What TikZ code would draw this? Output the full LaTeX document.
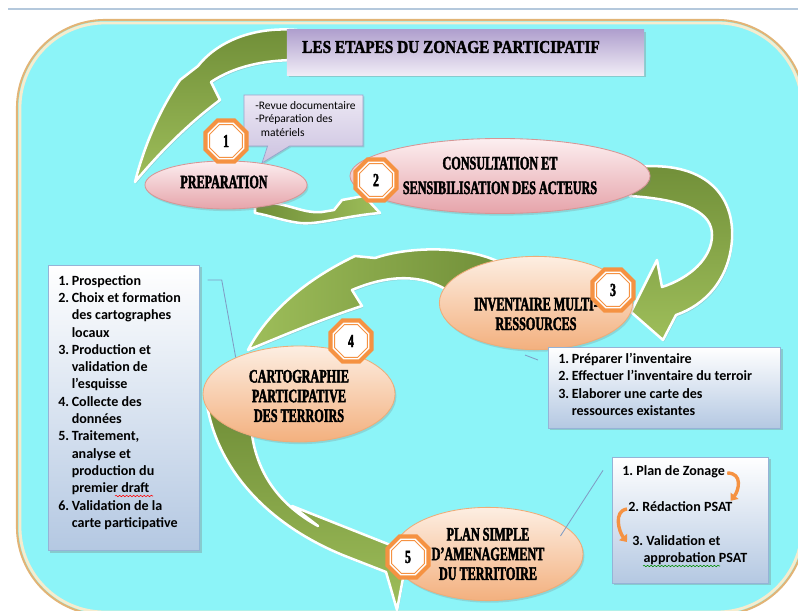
\documentclass[tikz,border=0pt]{standalone}
\usepackage{fontspec}
\newfontfamily\stepfont{Liberation Serif}[FakeStretch=0.64, BoldFeatures={FakeBold=2.2}]
\newfontfamily\titlefont{Liberation Serif}[FakeStretch=0.85, BoldFeatures={FakeBold=1.8}]
\newfontfamily\listfont{Carlito}
\usetikzlibrary{shapes.geometric, shapes.callouts, shadows, arrows.meta, decorations.pathmorphing, calc}

\definecolor{bgcyan}{RGB}{140,244,248}
\definecolor{rimtan}{RGB}{226,180,118}
\definecolor{rimpale}{RGB}{246,236,206}
\definecolor{grdark}{RGB}{112,142,56}
\definecolor{grlight}{RGB}{158,190,90}
\definecolor{pinktop}{RGB}{252,238,240}
\definecolor{pinkbot}{RGB}{230,164,170}
\definecolor{pinkline}{RGB}{214,150,150}
\definecolor{peachtop}{RGB}{253,238,226}
\definecolor{peachbot}{RGB}{243,176,126}
\definecolor{peachline}{RGB}{238,172,120}
\definecolor{octorange}{RGB}{245,146,66}
\definecolor{purtop}{RGB}{176,160,206}
\definecolor{purbot}{RGB}{240,236,246}
\definecolor{bubtop}{RGB}{236,232,244}
\definecolor{bubbot}{RGB}{204,194,224}
\definecolor{bubline}{RGB}{150,162,204}
\definecolor{boxline}{RGB}{149,179,215}
\definecolor{boxbot}{RGB}{180,200,226}
\definecolor{linkblue}{RGB}{128,156,196}
\definecolor{topline}{RGB}{180,200,220}

\newcommand\lnum[1]{\makebox[9.6pt][l]{#1}}
\newcommand\lind{\hspace*{9.6pt}}

\tikzset{
  oval/.style={ellipse, inner sep=0pt, line width=0.6pt, drop shadow={shadow xshift=1pt, shadow yshift=-1.5pt, opacity=0.25}},
  pinkoval/.style={oval, draw=pinkline, top color=pinktop, bottom color=pinkbot},
  peachoval/.style={oval, draw=peachline, top color=peachtop, bottom color=peachbot},
  steptext/.style={align=center, inner sep=0pt, font=\stepfont\bfseries\fontsize{13.5}{14}\selectfont},
  octo/.style={regular polygon, regular polygon sides=8, inner sep=0pt, minimum size=1.22cm, fill=octorange},
  octonum/.style={regular polygon, regular polygon sides=8, inner sep=0pt, minimum size=0.88cm, fill=white, draw=octorange, line width=0.7pt, preaction={draw=white, line width=3pt}, font=\stepfont\bfseries\fontsize{13}{13}\selectfont},
  greenarrow/.style={draw=white, line width=1.8pt, line join=round, drop shadow={shadow xshift=0.8pt, shadow yshift=-1.2pt, opacity=0.3}},
  listbox/.style={rectangle, anchor=north west, inner sep=0pt, draw=boxline, line width=0.5pt, top color=white, bottom color=boxbot, drop shadow={shadow xshift=1.5pt, shadow yshift=-1.5pt, opacity=0.35}},
  listtext/.style={align=left, inner sep=0pt, font=\listfont\bfseries\fontsize{10}{12.3}\selectfont},
  linkline/.style={draw=linkblue, line width=0.6pt},
  turnarrow/.style={draw=octorange, line width=2.4pt, -{Triangle[length=4.5pt, width=7pt]}},
}

\begin{document}
\begin{tikzpicture}[x=0.025cm, y=-0.025cm]
    \useasboundingbox (0,0) rectangle (798,611);
    \clip (0,0) rectangle (798,611);
    %page line and background
    \draw[topline, line width=0.8pt] (8,9) -- (798,9);
    \draw[draw=rimtan, line width=1.5pt, fill=bgcyan, rounded corners=2.2cm] (17,20) rectangle (805,615);
    \draw[draw=rimpale, line width=2pt, rounded corners=2.12cm] (20,23) rectangle (802,612);

    %green arrows
    \path[greenarrow, top color=grdark, bottom color=grlight] (297,30) .. controls (250,26) and (215,44) .. (198,66) -- (180,80) .. controls (158,112) and (143,150) .. (135,182) .. controls (160,152) and (188,124) .. (220,100) -- (211,82) .. controls (235,66) and (265,60) .. (297,60) -- cycle;
    \path[greenarrow, left color=grdark, right color=grlight] (255,203) .. controls (285,200) and (300,214) .. (322,212) -- (334,210) -- (342,200) -- (364,196) -- (380,213) .. controls (345,216) and (318,225) .. (300,223) .. controls (283,221) and (268,215) .. (255,213) -- cycle;
    \path[greenarrow, top color=grdark, bottom color=grlight] (635,167) .. controls (705,160) and (735,195) .. (732,240) .. controls (729,280) and (705,305) .. (676,315) -- (663,340) -- (631,312) -- (657,260) -- (662,287) .. controls (690,278) and (712,258) .. (712,235) .. controls (712,214) and (690,200) .. (630,196) -- cycle;
    \path[greenarrow, left color=grlight, right color=grdark] (505,265) .. controls (470,245) and (410,246) .. (375,258) -- (355,256) .. controls (305,280) and (268,312) .. (248,350) .. controls (282,336) and (322,319) .. (362,306) -- (352,290) .. controls (385,276) and (420,272) .. (450,292) -- cycle;
    \path[greenarrow, top color=grdark, bottom color=grlight] (207,405) .. controls (218,470) and (268,525) .. (345,556) -- (386,572) -- (397,610) -- (408,552) -- (292,506) -- (318,526) .. controls (280,505) and (258,475) .. (252,435) -- cycle;

    %title
    \node[rectangle, top color=purtop, bottom color=purbot, minimum width=8.925cm, minimum height=1.125cm, inner sep=0pt, drop shadow={shadow xshift=1.5pt, shadow yshift=-1.5pt, opacity=0.35}] (tbox) at (465.5,52.5) {};
    \node[inner sep=0pt, font=\titlefont\bfseries\fontsize{12.8}{14}\selectfont] (title) at (451,47) {LES ETAPES DU ZONAGE PARTICIPATIF};

    %callout of step 1
    \node[rectangle callout, callout absolute pointer={(262,163)}, callout pointer width=0.55cm, draw=bubline, line width=0.5pt, top color=bubtop, bottom color=bubbot, minimum width=2.975cm, minimum height=1.275cm, inner sep=0pt, drop shadow={shadow xshift=1pt, shadow yshift=-1pt, opacity=0.3}] (bubble) at (303.5,120.5) {};
    \node[anchor=north west, align=left, inner sep=0pt, font=\listfont\fontsize{8.2}{9.6}\selectfont] (bubtxt) at (255,101) {-Revue documentaire\\-Préparation des\\\hspace*{4pt}matériels};

    %steps
    \node[pinkoval, minimum width=4.05cm, minimum height=1.2cm] (prep) at (226,185) {};
    \node[steptext] (preptxt) at (224,182) {PREPARATION};
    \node[pinkoval, minimum width=7.5cm, minimum height=1.875cm] (consult) at (500,176) {};
    \node[steptext, font=\stepfont\bfseries\fontsize{13.5}{17.5}\selectfont] (consulttxt) at (500,175.5) {CONSULTATION ET\\SENSIBILISATION DES ACTEURS};
    \node[peachoval, minimum width=4.83cm, minimum height=2.33cm] (inv) at (536,303) {};
    \node[steptext] (invtxt) at (536,314) {INVENTAIRE MULTI-\\RESSOURCES};
    \node[peachoval, minimum width=4.8cm, minimum height=2.4cm] (carto) at (299,394) {};
    \node[steptext] (cartotxt) at (299,396) {CARTOGRAPHIE\\PARTICIPATIVE\\DES TERROIRS};
    \node[peachoval, minimum width=4.75cm, minimum height=2.33cm] (plan) at (488,554) {};
    \node[steptext] (plantxt) at (488,554) {PLAN SIMPLE\\D’AMENAGEMENT\\DU TERRITOIRE};

    %numbers
    \node[octo] (o1) at (226,141) {};
    \node[octonum] (n1) at (o1) {1};
    \node[octo] (o2) at (376,180) {};
    \node[octonum] (n2) at (o2) {2};
    \node[octo] (o3) at (613,290) {};
    \node[octonum] (n3) at (o3) {3};
    \node[octo] (o4) at (351,341) {};
    \node[octonum] (n4) at (o4) {4};
    \node[octo] (o5) at (408,557) {};
    \node[octonum] (n5) at (o5) {5};

    %list of step 4
    \node[listbox, minimum width=3.775cm, minimum height=7.125cm] (lst1) at (48,265) {};
    \node[listtext, anchor=north west] (lst1txt) at (58,275) {\lnum{1.}Prospection\\
        \lnum{2.}Choix et formation\\ \lind des cartographes\\ \lind locaux\\
        \lnum{3.}Production et\\ \lind validation de\\ \lind l’esquisse\\
        \lnum{4.}Collecte des\\ \lind données\\
        \lnum{5.}Traitement,\\ \lind analyse et\\ \lind production du\\ \lind premier draft\\
        \lnum{6.}Validation de la\\ \lind carte participative};
    \draw[red, line width=0.4pt, decorate, decoration={snake, amplitude=0.5pt, segment length=2.5pt}] (115,496) -- (153,496);
    \draw[linkline] ($(lst1.north east)+(8,15)$) -- ++(14,0) -- (carto.150);

    %list of step 3
    \node[listbox, minimum width=5.8cm, minimum height=2.025cm] (lst2) at (548,347) {};
    \node[listtext, anchor=north west] (lst2txt) at (558,353) {\lnum{1.}Préparer l’inventaire\\
        \lnum{2.}Effectuer l’inventaire du terroir\\
        \lnum{3.}Elaborer une carte des\\ \lind ressources existantes};
    \draw[linkline] ($(inv.south)+(-11,5)$) -- ($(lst2.north west)+(-10,13)$);

    %list of step 5
    \node[listbox, minimum width=3.9cm, minimum height=3.15cm] (lst3) at (612,457) {};
    \node[listtext, anchor=west] (z1) at (622,472) {1.\ Plan de Zonage};
    \node[listtext, anchor=west] (z2) at (628,507) {2.\ Rédaction PSAT};
    \node[listtext, anchor=west] (z3) at (632,550) {3.\ Validation et\\\hspace*{8pt}approbation PSAT};
    \draw[green!55!black, line width=0.4pt, decorate, decoration={snake, amplitude=0.5pt, segment length=2.5pt}] (643,566) -- (720,566);
    \draw[turnarrow] ($(z1.east)+(2,1)$) .. controls +(16,0) and +(8,-10) .. ($(z2.north east)+(-2,-1)$);
    \draw[turnarrow] ($(z2.west)+(-1,2)$) .. controls +(-14,2) and +(-8,-10) .. ($(z3.north west)+(-5,7)$);
    \draw[linkline] ($(plan.east)+(-23,-18)$) -- ($(lst3.west)+(-9,-50)$);
\end{tikzpicture}
\end{document}
